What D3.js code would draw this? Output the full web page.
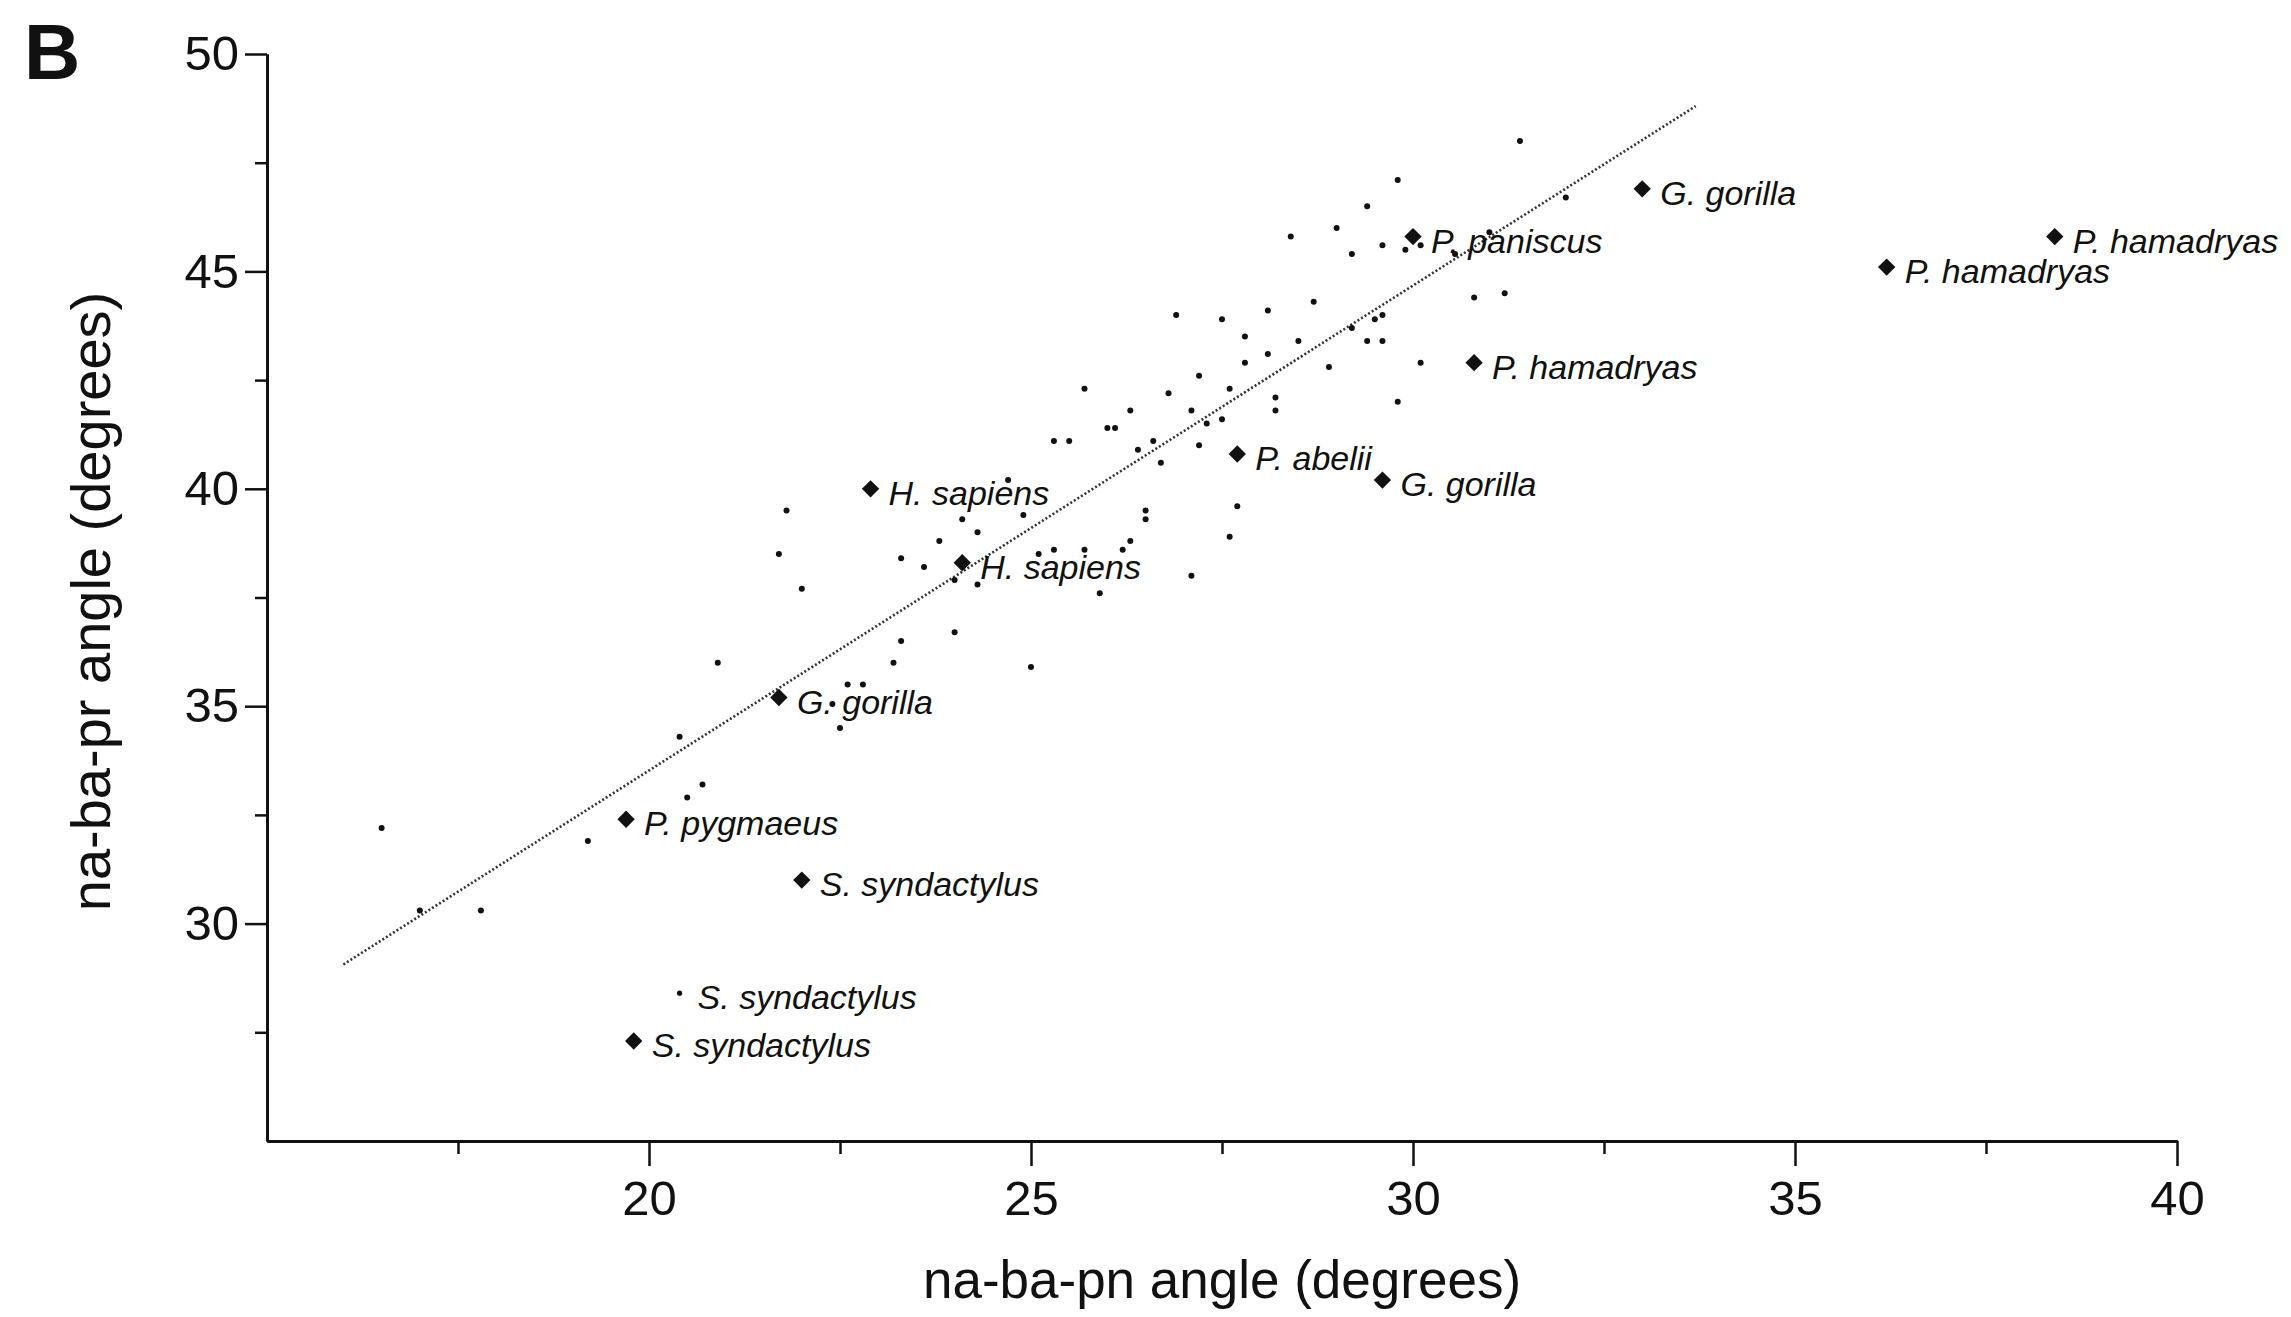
<!DOCTYPE html>
<html>
<head>
<meta charset="utf-8">
<script src="https://cdn.jsdelivr.net/npm/d3@7"></script>
<style>
  html, body { margin: 0; padding: 0; background: #fff; }
  svg { display: block; font-family: "Liberation Sans", Arial, Helvetica, sans-serif; }
</style>
</head>
<body>
<svg id="chart" width="2291" height="1317"></svg>
<script>
// --- Data ---

const xMajorTicks = [20, 25, 30, 35, 40];
const xMinorTicks = [17.5, 22.5, 27.5, 32.5, 37.5];
const yMajorTicks = [30, 35, 40, 45, 50];
const yMinorTicks = [27.5, 32.5, 37.5, 42.5, 47.5];

// small dots (individual specimens)
const dotX = [
  31.4, 29.8, 29.4, 32.0, 29.0, 28.4, 29.6, 29.2, 29.9, 30.1, 31.0, 30.55,
  30.8, 31.2, 26.9, 27.5, 28.1, 28.7, 29.2, 29.5, 29.6, 29.4, 29.6, 27.8,
  28.5, 28.1, 27.8, 27.2, 28.9, 30.1, 26.8, 27.6, 28.2, 29.8,
  28.2, 27.1, 27.5, 27.3, 26.6, 27.2, 26.7, 27.7, 27.6, 27.1,
  25.7, 26.3, 26.0, 26.1, 25.3, 25.5, 26.4, 24.7, 21.8, 24.1, 24.9, 24.3,
  23.8, 26.5, 26.5, 26.3, 21.7, 23.3, 23.6, 24.0, 24.3, 25.1, 25.3, 25.7,
  26.2, 25.9, 22.0, 24.0, 23.3,
  20.9, 23.2, 25.0, 22.6, 22.8, 22.4, 22.5, 20.7,
  20.4, 20.5, 16.5, 19.2, 17.0, 17.8
];
const dotY = [
  48.0, 47.1, 46.5, 46.7, 46.0, 45.8, 45.6, 45.4, 45.5, 45.6, 45.9, 45.4,
  44.4, 44.5, 44.0, 43.9, 44.1, 44.3, 43.7, 43.9, 44.0, 43.4, 43.4, 43.5,
  43.4, 43.1, 42.9, 42.6, 42.8, 42.9, 42.2, 42.3, 42.1, 42.0,
  41.8, 41.8, 41.6, 41.5, 41.1, 41.0, 40.6, 39.6, 38.9, 38.0,
  42.3, 41.8, 41.4, 41.4, 41.1, 41.1, 40.9, 40.2, 39.5, 39.3, 39.4, 39.0,
  38.8, 39.5, 39.3, 38.8, 38.5, 38.4, 38.2, 37.9, 37.8, 38.5, 38.6, 38.6,
  38.6, 37.6, 37.7, 36.7, 36.5,
  36.0, 36.0, 35.9, 35.5, 35.5, 35.05, 34.5, 33.2,
  34.3, 32.9, 32.2, 31.9, 30.3, 30.3
];

// labelled taxa (diamonds, plus one labelled small dot)
const taxonNames = [
  'G. gorilla', 'P. paniscus', 'P. hamadryas', 'P. hamadryas', 'P. hamadryas',
  'P. abelii', 'G. gorilla', 'H. sapiens', 'H. sapiens', 'G. gorilla',
  'P. pygmaeus', 'S. syndactylus', 'S. syndactylus', 'S. syndactylus'
];
const taxonX = [33.0, 30.0, 38.4, 36.2, 30.8, 27.7, 29.6, 22.9, 24.1, 21.7, 19.7, 22.0, 19.8, 20.4];
const taxonY = [46.9, 45.8, 45.8, 45.1, 42.9, 40.8, 40.2, 40.0, 38.3, 35.2, 32.4, 31.0, 27.3, 28.4];
const taxonMarker = [
  'diamond', 'diamond', 'diamond', 'diamond', 'diamond', 'diamond', 'diamond',
  'diamond', 'diamond', 'diamond', 'diamond', 'diamond', 'diamond', 'dot'
];

// regression line
const fitSlope = 1.1153;
const fitIntercept = 11.215;
const fitRange = [16.0, 33.7];

const xDomain = [15, 40];
const yDomain = [25, 50];

// --- Layout ---

const svg = d3.select('#chart');
const ink = '#111';

const x = d3.scaleLinear().domain(xDomain).range([267, 2177]);
const y = d3.scaleLinear().domain(yDomain).range([1141, 54]);

// --- Axes ---

function styleAxis(g) {
  g.select('.domain').attr('stroke', ink).attr('stroke-width', 3);
  g.selectAll('.tick line').attr('stroke', ink).attr('stroke-width', 2.5);
  g.selectAll('.tick text')
    .attr('fill', ink)
    .style('font-size', '49px')
    .style('font-family', '"Liberation Sans", Arial, sans-serif');
}

svg.append('g')
  .attr('transform', `translate(0,${y(yDomain[0])})`)
  .call(d3.axisBottom(x).tickValues(xMinorTicks).tickSize(13).tickSizeOuter(0).tickFormat(''))
  .call(styleAxis);

svg.append('g')
  .attr('transform', `translate(0,${y(yDomain[0])})`)
  .call(d3.axisBottom(x).tickValues(xMajorTicks).tickSize(25).tickSizeOuter(0).tickPadding(14).tickFormat(d3.format('d')))
  .call(styleAxis);

svg.append('g')
  .attr('transform', `translate(${x(xDomain[0])},0)`)
  .call(d3.axisLeft(y).tickValues(yMinorTicks).tickSize(12).tickSizeOuter(0).tickFormat(''))
  .call(styleAxis);

svg.append('g')
  .attr('transform', `translate(${x(xDomain[0])},0)`)
  .call(d3.axisLeft(y).tickValues(yMajorTicks).tickSize(22).tickSizeOuter(0).tickPadding(6).tickFormat(d3.format('d')))
  .call(styleAxis);

// axis titles
svg.append('text')
  .attr('x', (x.range()[0] + x.range()[1]) / 2)
  .attr('y', 1298)
  .attr('text-anchor', 'middle')
  .attr('fill', ink)
  .style('font-size', '53px')
  .text('na-ba-pn angle (degrees)');

svg.append('text')
  .attr('transform', `translate(90,${(y.range()[0] + y.range()[1]) / 2 + 4}) rotate(-90)`)
  .attr('text-anchor', 'middle')
  .attr('dy', '0.35em')
  .attr('fill', ink)
  .style('font-size', '56px')
  .text('na-ba-pr angle (degrees)');

// panel letter
svg.append('text')
  .attr('x', 24)
  .attr('y', 79)
  .attr('fill', ink)
  .style('font-size', '78px')
  .style('font-weight', 'bold')
  .text('B');

// --- Regression line ---

svg.append('line')
  .attr('x1', x(fitRange[0]))
  .attr('y1', y(fitIntercept + fitSlope * fitRange[0]))
  .attr('x2', x(fitRange[1]))
  .attr('y2', y(fitIntercept + fitSlope * fitRange[1]))
  .attr('stroke', '#333')
  .attr('stroke-width', 2.6)
  .attr('stroke-dasharray', '2 2.2');

// --- Points ---

svg.append('g')
  .selectAll('circle')
  .data(d3.range(dotX.length))
  .join('circle')
  .attr('cx', i => x(dotX[i]))
  .attr('cy', i => y(dotY[i]))
  .attr('r', 3)
  .attr('fill', ink);

const diamond = d3.symbol().type(d3.symbolSquare).size(150);

const taxa = svg.append('g')
  .selectAll('g')
  .data(d3.range(taxonNames.length))
  .join('g')
  .attr('transform', i => `translate(${x(taxonX[i])},${y(taxonY[i])})`);

taxa.filter(i => taxonMarker[i] === 'diamond')
  .append('path')
  .attr('d', diamond)
  .attr('transform', 'rotate(45)')
  .attr('fill', ink);

taxa.filter(i => taxonMarker[i] === 'dot')
  .append('circle')
  .attr('r', 2.6)
  .attr('fill', ink);

taxa.append('text')
  .attr('x', 18)
  .attr('y', 16)
  .attr('fill', ink)
  .style('font-size', '34px')
  .style('font-style', 'italic')
  .text(i => taxonNames[i]);
</script>
</body>
</html>
